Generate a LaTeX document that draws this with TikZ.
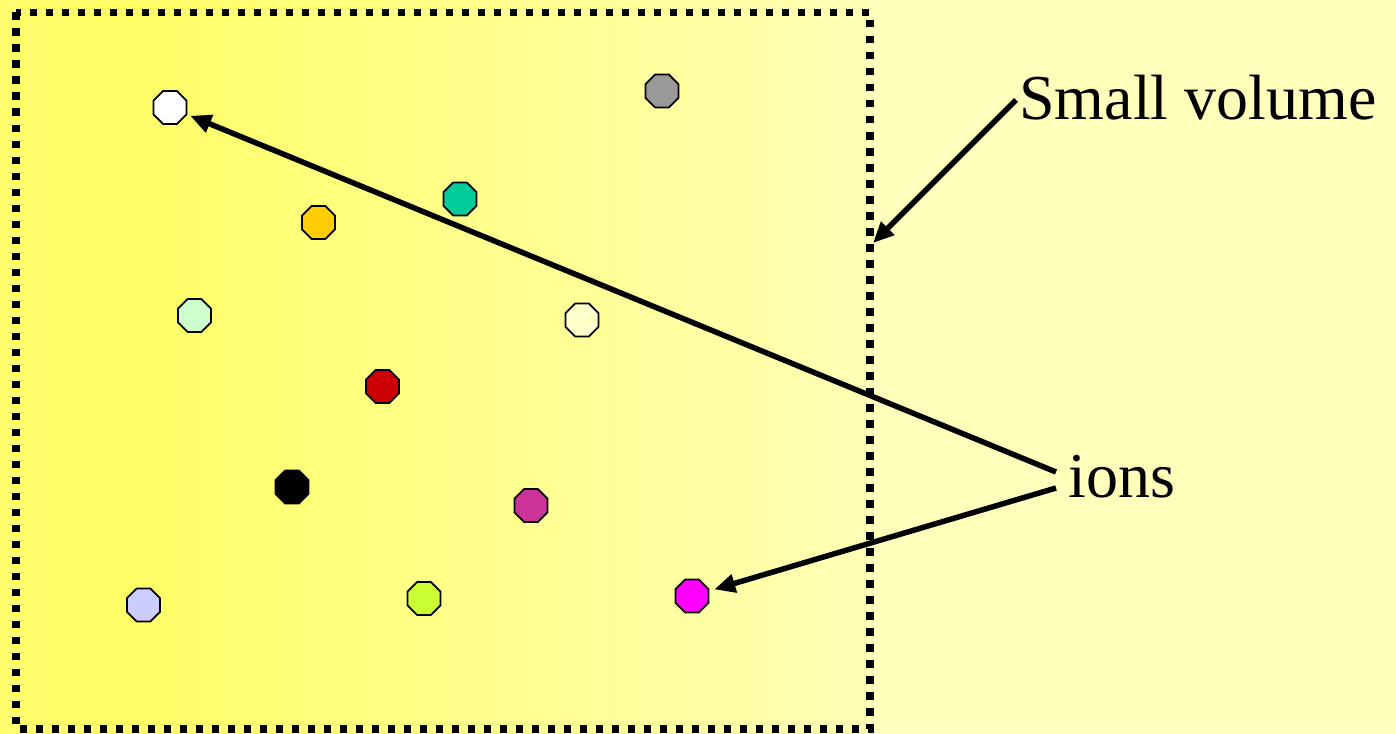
\documentclass[tikz,border=0pt]{standalone}
\usepackage{fontspec}
\setmainfont{Liberation Serif}
\usetikzlibrary{shapes.geometric,arrows.meta}
\definecolor{bgpale}{HTML}{FFFFBB}
\definecolor{bgleft}{HTML}{FFFF70}
\definecolor{bgpeak}{HTML}{FFFF66}
\definecolor{bgend}{HTML}{FFFFB6}
\definecolor{cwhite}{HTML}{FFFFFF}
\definecolor{cgray}{HTML}{999999}
\definecolor{cteal}{HTML}{00CC99}
\definecolor{cgold}{HTML}{FFCC00}
\definecolor{cmint}{HTML}{CCFFCC}
\definecolor{ccream}{HTML}{FFFFCC}
\definecolor{cred}{HTML}{CC0000}
\definecolor{cblack}{HTML}{000000}
\definecolor{cpurple}{HTML}{CC3399}
\definecolor{clav}{HTML}{CCCCFF}
\definecolor{clime}{HTML}{CCFF33}
\definecolor{cmag}{HTML}{FF00FF}
\tikzset{
  ion/.style={regular polygon, regular polygon sides=8, minimum size=35.7pt,
    inner sep=0pt, outer sep=0pt, draw=black, line width=1.8pt},
  label/.style={font=\fontsize{64}{76}\selectfont, inner sep=0pt, anchor=base west},
  pointer/.style={line width=5.5pt, -{Triangle[length=21pt,width=18pt]}},
  volbox/.style={draw=black, line width=7.5pt, dash pattern=on 7.5pt off 8.5pt}
}
\begin{document}
\begin{tikzpicture}[x=1pt,y=-1pt]
\useasboundingbox (0,0) rectangle (1396,733);
% background
\fill[bgpale] (0,0) rectangle (1396,733);
\shade[left color=bgleft, right color=bgpeak] (0,0) rectangle (120,733);
\shade[left color=bgpeak, right color=bgend] (119.5,0) rectangle (870,733);
% small volume box
\draw[volbox] (16,12.5) rectangle (870,729);
% ions
\node[ion, fill=cwhite]  (w1) at (170,107.5) {};
\node[ion, fill=cgray]   (g1) at (662,91) {};
\node[ion, fill=cteal]   (t1) at (460,199) {};
\node[ion, fill=cgold]   (o1) at (318.5,222.5) {};
\node[ion, fill=cmint]   (m1) at (194.5,315.5) {};
\node[ion, fill=ccream]  (c1) at (582,320) {};
\node[ion, fill=cred]    (r1) at (382.5,386.5) {};
\node[ion, fill=cblack]  (b1) at (292,487) {};
\node[ion, fill=cpurple] (p1) at (531,505.5) {};
\node[ion, fill=clav]    (l1) at (143.5,605) {};
\node[ion, fill=clime]   (y1) at (424,598.5) {};
\node[ion, fill=cmag]    (k1) at (692,596) {};
% labels
\node[label] (sv) at (1019,120) {Small volume};
\node[label] (io) at (1068,497) {ions};
% connector ends
\coordinate (svA) at (1016,100);
\coordinate (svtip) at (873,243);
\coordinate (ioA) at (1056,472);
\coordinate (ioB) at (1056,488);
% arrows
\draw[pointer] (svA) -- (svtip);
\draw[pointer, shorten >=4pt] (ioA) -- (w1);
\draw[pointer, shorten >=6pt] (ioB) -- (k1);
\end{tikzpicture}
\end{document}
